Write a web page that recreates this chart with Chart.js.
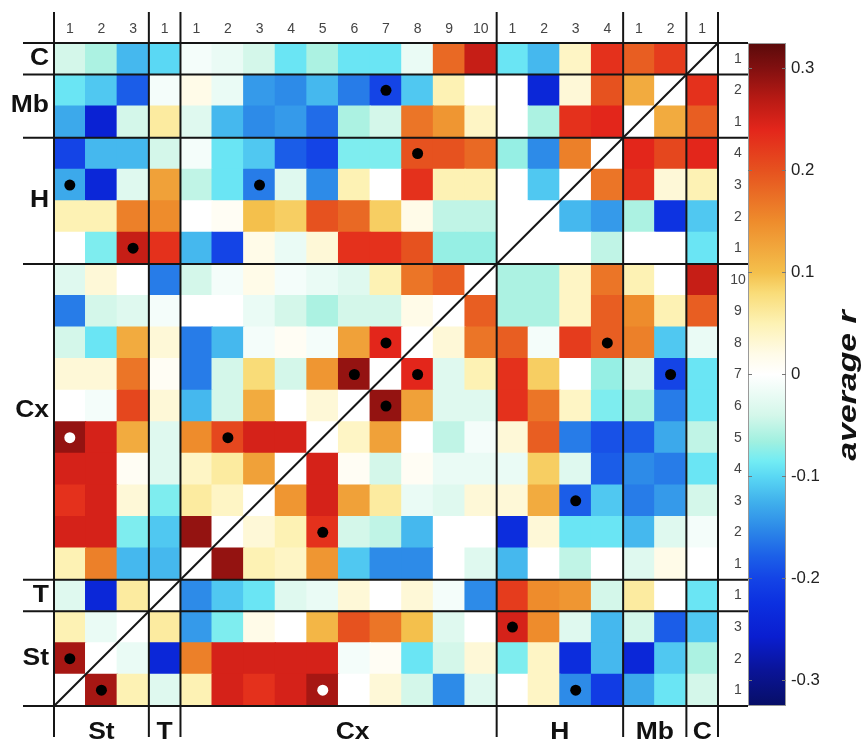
<!DOCTYPE html>
<html>
<head>
<meta charset="utf-8">
<script src="https://cdn.jsdelivr.net/npm/chart.js@4"></script>
<style>
  html, body { margin: 0; padding: 0; background: #fff; }
  #wrap { width: 867px; height: 745px; }
</style>
</head>
<body>
<div id="wrap"><canvas id="heat" width="867" height="745"></canvas></div>
<script>
// Groupes (colonnes de gauche a droite = lignes de bas en haut)
const groupNames = ['St', 'T', 'Cx', 'H', 'Mb', 'C'];
const groupSizes = [3, 1, 10, 4, 2, 1];
const cellKeys = ['St1', 'St2', 'St3', 'T1', 'Cx1', 'Cx2', 'Cx3', 'Cx4', 'Cx5', 'Cx6', 'Cx7',
  'Cx8', 'Cx9', 'Cx10', 'H1', 'H2', 'H3', 'H4', 'Mb1', 'Mb2', 'C1'];
const cellTicks = ['1', '2', '3', '1', '1', '2', '3', '4', '5', '6', '7', '8', '9', '10',
  '1', '2', '3', '4', '1', '2', '1'];

// average r, une liste par ligne (colonnes dans l'ordre de cellKeys)
const rowSt1 = [0, 0.28, 0.05, -0.03, 0.05, 0.25, 0.23, 0.25, 0.28, 0, 0.03, -0.04, -0.15, -0.03, 0, 0.04, -0.15, -0.21, -0.13, -0.09, -0.04];
const rowSt2 = [0.28, 0, -0.02, -0.24, 0.16, 0.25, 0.25, 0.25, 0.25, -0.01, 0.01, -0.09, -0.04, 0.03, -0.08, 0.04, -0.23, -0.12, -0.24, -0.11, -0.06];
const rowSt3 = [0.05, -0.02, 0, 0.06, -0.14, -0.08, 0.02, 0, 0.11, 0.20, 0.17, 0.10, -0.03, 0, 0.25, 0.15, -0.03, -0.12, -0.04, -0.18, -0.11];
const rowT1 = [-0.03, -0.24, 0.06, 0, -0.15, -0.11, -0.09, -0.03, -0.02, 0.03, 0, 0.03, -0.01, -0.15, 0.22, 0.15, 0.14, -0.04, 0.06, 0, -0.09];
const rowCx1 = [0.05, 0.16, -0.12, -0.12, 0, 0.29, 0.05, 0.04, 0.14, -0.11, -0.15, -0.15, 0, -0.03, -0.12, 0, -0.05, 0, -0.03, 0.02, 0];
const rowCx2 = [0.25, 0.25, -0.08, -0.11, 0.29, 0, 0.03, 0.05, 0.23, -0.04, -0.05, -0.12, 0, 0, -0.23, 0.03, -0.09, -0.09, -0.12, -0.03, -0.01];
const rowCx3 = [0.23, 0.25, 0.03, -0.08, 0.06, 0.04, 0, 0.14, 0.25, 0.13, 0.06, -0.02, -0.03, 0.03, 0.03, 0.12, -0.18, -0.11, -0.16, -0.14, -0.04];
const rowCx4 = [0.25, 0.25, 0.01, -0.03, 0.04, 0.06, 0.13, 0, 0.25, 0.01, -0.04, 0.01, -0.02, -0.02, -0.02, 0.09, -0.03, -0.18, -0.15, -0.16, -0.09];
const rowCx5 = [0.29, 0.25, 0.12, -0.03, 0.15, 0.21, 0.25, 0.25, 0, 0.04, 0.13, 0, -0.05, -0.01, 0.03, 0.19, -0.16, -0.19, -0.18, -0.13, -0.05];
const rowCx6 = [0, -0.01, 0.21, 0.03, -0.12, -0.04, 0.12, 0, 0.03, 0, 0.29, 0.13, -0.03, -0.03, 0.23, 0.17, 0.04, -0.08, -0.06, -0.16, -0.09];
const rowCx7 = [0.03, 0.03, 0.17, 0.01, -0.16, -0.04, 0.08, -0.04, 0.14, 0.29, 0, 0.24, -0.03, 0.05, 0.23, 0.09, 0, -0.07, -0.04, -0.20, -0.09];
const rowCx8 = [-0.04, -0.09, 0.12, 0.03, -0.16, -0.12, -0.01, 0.01, -0.01, 0.13, 0.24, 0, 0.03, 0.17, 0.19, -0.01, 0.22, 0.19, 0.16, -0.11, -0.02];
const rowCx9 = [-0.16, -0.04, -0.03, -0.01, 0, 0, -0.02, -0.04, -0.06, -0.04, -0.04, 0.02, 0, 0.19, -0.06, -0.06, 0.04, 0.19, 0.15, 0.05, 0.19];
const rowCx10 = [-0.03, 0.03, 0, -0.16, -0.04, -0.01, 0.02, -0.01, -0.02, -0.03, 0.05, 0.17, 0.19, 0, -0.06, -0.06, 0.04, 0.17, 0.05, 0, 0.26];
const rowH1 = [0, -0.08, 0.26, 0.23, -0.12, -0.20, 0.02, -0.02, 0.03, 0.23, 0.23, 0.20, -0.07, -0.07, 0, 0, 0, -0.05, 0, 0, -0.09];
const rowH2 = [0.05, 0.05, 0.16, 0.15, 0, 0.01, 0.10, 0.09, 0.20, 0.18, 0.09, 0.02, -0.05, -0.05, 0, 0, -0.12, -0.14, -0.06, -0.22, -0.11];
const rowH3 = [-0.13, -0.24, -0.03, 0.13, -0.05, -0.09, -0.16, -0.03, -0.15, 0.05, 0, 0.23, 0.05, 0.05, 0, -0.11, 0, 0.17, 0.23, 0.03, 0.05];
const rowH4 = [-0.20, -0.12, -0.12, -0.04, -0.01, -0.09, -0.11, -0.18, -0.20, -0.08, -0.08, 0.20, 0.20, 0.18, -0.07, -0.15, 0.16, 0, 0.24, 0.21, 0.24];
const rowMb1 = [-0.13, -0.25, -0.04, 0.06, -0.03, -0.12, -0.15, -0.14, -0.17, -0.06, -0.04, 0.17, 0.14, 0.04, 0, -0.06, 0.23, 0.24, 0, 0.12, 0.19];
const rowMb2 = [-0.09, -0.11, -0.18, -0.01, 0.02, -0.02, -0.14, -0.15, -0.12, -0.16, -0.20, -0.11, 0.05, 0, 0, -0.24, 0.03, 0.20, 0.12, 0, 0.23];
const rowC1 = [-0.04, -0.06, -0.12, -0.10, -0.01, -0.02, -0.04, -0.09, -0.06, -0.09, -0.09, -0.02, 0.18, 0.26, -0.09, -0.12, 0.04, 0.23, 0.19, 0.22, 0];

// points significatifs [ligne, colonne]
const dotsBlack = [['Mb2', 'Cx7'], ['H4', 'Cx8'], ['H3', 'St1'], ['H3', 'Cx3'], ['H1', 'St3'],
  ['Cx8', 'Cx7'], ['Cx8', 'H4'], ['Cx7', 'Cx6'], ['Cx7', 'Cx8'], ['Cx7', 'Mb2'], ['Cx6', 'Cx7'],
  ['Cx5', 'Cx2'], ['Cx3', 'H3'], ['Cx2', 'Cx5'], ['St3', 'H1'], ['St2', 'St1'], ['St1', 'St2'],
  ['St1', 'H3']];
const dotsWhite = [['Cx5', 'St1'], ['St1', 'Cx5']];

// barre de couleur
const cbRange = [-0.325, 0.325];
const cbTicks = [0.3, 0.2, 0.1, 0, -0.1, -0.2, -0.3];
const cbTickLabels = ['0.3', '0.2', '0.1', '0', '-0.1', '-0.2', '-0.3'];
const cbTitle = 'average r';

const rows = [rowSt1, rowSt2, rowSt3, rowT1, rowCx1, rowCx2, rowCx3, rowCx4, rowCx5, rowCx6,
  rowCx7, rowCx8, rowCx9, rowCx10, rowH1, rowH2, rowH3, rowH4, rowMb1, rowMb2, rowC1];

// palette
const cmap = [
  [-0.325, '#070e66'], [-0.29, '#0a1498'], [-0.257, '#0a1ed0'], [-0.224, '#0c30e0'],
  [-0.20, '#1444e6'], [-0.178, '#1c60e8'], [-0.152, '#2c88e8'], [-0.125, '#40b0ec'],
  [-0.10, '#5ad8f4'], [-0.085, '#72ecf4'], [-0.066, '#a0f0e0'], [-0.04, '#d4f7ea'],
  [0, '#ffffff'], [0.02, '#fffbe8'], [0.05, '#fdf2b4'], [0.08, '#f9dc78'], [0.10, '#f4c04c'],
  [0.15, '#ee8c2c'], [0.20, '#e6521f'], [0.24, '#e3261b'], [0.27, '#b81a14'],
  [0.30, '#821010'], [0.325, '#5a0a0a']
];

function hexToRgb(h) {
  return [parseInt(h.slice(1, 3), 16), parseInt(h.slice(3, 5), 16), parseInt(h.slice(5, 7), 16)];
}

function colorFor(v) {
  if (v <= cmap[0][0]) return cmap[0][1];
  for (let i = 1; i < cmap.length; i++) {
    if (v <= cmap[i][0]) {
      const [v0, c0] = cmap[i - 1];
      const [v1, c1] = cmap[i];
      const t = (v - v0) / (v1 - v0);
      const a = hexToRgb(c0), b = hexToRgb(c1);
      const c = a.map((x, k) => Math.round(x + (b[k] - x) * t));
      return `rgb(${c[0]}, ${c[1]}, ${c[2]})`;
    }
  }
  return cmap[cmap.length - 1][1];
}

function drawText(ctx, text, x, y, font, sx, align) {
  ctx.save();
  ctx.translate(x, y);
  ctx.scale(sx, 1);
  ctx.font = font;
  ctx.textAlign = align;
  ctx.textBaseline = 'middle';
  ctx.fillText(text, 0, 0);
  ctx.restore();
}

const FONT = '"Liberation Sans", Arial, sans-serif';

const framePlugin = {
  id: 'frame',
  afterDatasetsDraw(chart) {
    const { ctx, chartArea: a, scales: { x, y } } = chart;
    const colEdge = k => x.getPixelForValue(k - 0.5);
    const rowEdge = k => y.getPixelForValue(k);
    const cbLeft = a.right + 30;

    ctx.save();
    ctx.strokeStyle = '#151515';
    ctx.lineWidth = 2;
    ctx.lineCap = 'butt';

    // diagonale
    ctx.beginPath();
    ctx.moveTo(colEdge(0), rowEdge(0));
    ctx.lineTo(colEdge(cellKeys.length), rowEdge(cellKeys.length));
    ctx.stroke();

    // separateurs de groupes
    const edges = [0];
    groupSizes.forEach(n => edges.push(edges[edges.length - 1] + n));
    edges.forEach(e => {
      const px = colEdge(e), py = rowEdge(e);
      ctx.beginPath();
      ctx.moveTo(px, a.top - 31);
      ctx.lineTo(px, a.bottom + 31);
      ctx.moveTo(a.left - 31, py);
      ctx.lineTo(cbLeft, py);
      ctx.stroke();
    });
    ctx.restore();
  },
  afterDraw(chart) {
    const { ctx, chartArea: a, scales: { x, y, cb } } = chart;
    ctx.save();

    // numeros en haut et a droite
    ctx.fillStyle = '#444';
    cellTicks.forEach((t, i) => {
      drawText(ctx, t, x.getPixelForValue(i), a.top - 14, `14px ${FONT}`, 1, 'center');
      drawText(ctx, t, a.right + 20, y.getPixelForValue(i + 0.5), `14px ${FONT}`, 1, 'center');
    });

    // noms de groupes (Cx un peu decale comme dans la figure)
    ctx.fillStyle = '#111';
    let start = 0;
    groupNames.forEach((g, i) => {
      const mid = start + groupSizes[i] / 2;
      const shiftL = g === 'Cx' ? -11 : 0;
      const shiftB = g === 'Cx' ? 14 : 0;
      drawText(ctx, g, a.left - 5, y.getPixelForValue(mid) + shiftL, `bold 23px ${FONT}`, 1.15, 'right');
      drawText(ctx, g, x.getPixelForValue(mid - 0.5) + shiftB, a.bottom + 27, `bold 23px ${FONT}`, 1.15, 'center');
      start += groupSizes[i];
    });

    // barre de couleur
    const x0 = a.right + 30, w = 38;
    const top = cb.getPixelForValue(cbRange[1]);
    const bottom = cb.getPixelForValue(cbRange[0]);
    const grad = ctx.createLinearGradient(0, top, 0, bottom);
    cmap.forEach(([v, c]) => {
      grad.addColorStop((cbRange[1] - v) / (cbRange[1] - cbRange[0]), c);
    });
    ctx.fillStyle = grad;
    ctx.fillRect(x0, top, w, bottom - top);
    ctx.strokeStyle = '#999';
    ctx.lineWidth = 1;
    ctx.strokeRect(x0 + 0.5, top + 0.5, w - 1, bottom - top - 1);

    ctx.strokeStyle = '#777';
    ctx.fillStyle = '#222';
    cbTicks.forEach((v, i) => {
      const py = cb.getPixelForValue(v);
      ctx.beginPath();
      ctx.moveTo(x0, py); ctx.lineTo(x0 + 4, py);
      ctx.moveTo(x0 + w, py); ctx.lineTo(x0 + w - 4, py);
      ctx.stroke();
      drawText(ctx, cbTickLabels[i], x0 + w + 5, py, `16px ${FONT}`, 1.05, 'left');
    });

    // titre de la barre
    ctx.save();
    ctx.translate(x0 + w + 63, (top + bottom) / 2 + 11);
    ctx.rotate(-Math.PI / 2);
    ctx.fillStyle = '#111';
    drawText(ctx, cbTitle, 0, 0, `italic bold 26px ${FONT}`, 1.3, 'center');
    ctx.restore();

    ctx.restore();
  }
};

function dotData(list) {
  return list.map(([r, c]) => ({ x: c, y: cellKeys.indexOf(r) + 0.5 }));
}

const cellSets = rows.map((vals, r) => ({
  type: 'bar',
  label: cellKeys[r],
  data: cellKeys.map(() => [r, r + 1]),
  backgroundColor: vals.map(colorFor),
  grouped: false,
  barPercentage: 1,
  categoryPercentage: 1,
  borderWidth: 0,
  inflateAmount: 0.6,
  order: 2
}));

const dotSets = [
  { data: dotData(dotsBlack), color: '#000' },
  { data: dotData(dotsWhite), color: '#fff' }
].map((d, i) => ({
  type: 'line',
  label: i === 0 ? 'sig' : 'sig2',
  data: d.data,
  showLine: false,
  pointRadius: 5.5,
  pointBorderWidth: 0,
  pointBackgroundColor: d.color,
  pointBorderColor: d.color,
  order: 0
}));

new Chart(document.getElementById('heat'), {
  type: 'bar',
  data: { labels: cellKeys, datasets: [...cellSets, ...dotSets] },
  options: {
    responsive: false,
    devicePixelRatio: 1,
    animation: false,
    layout: { padding: { left: 54, top: 43, right: 149, bottom: 39 } },
    plugins: { legend: { display: false }, tooltip: { enabled: false } },
    scales: {
      x: { type: 'category', display: false, offset: true },
      y: { type: 'linear', min: 0, max: 21, display: false },
      cb: { type: 'linear', axis: 'y', min: cbRange[0], max: cbRange[1], display: false }
    }
  },
  plugins: [framePlugin]
});
</script>
</body>
</html>
